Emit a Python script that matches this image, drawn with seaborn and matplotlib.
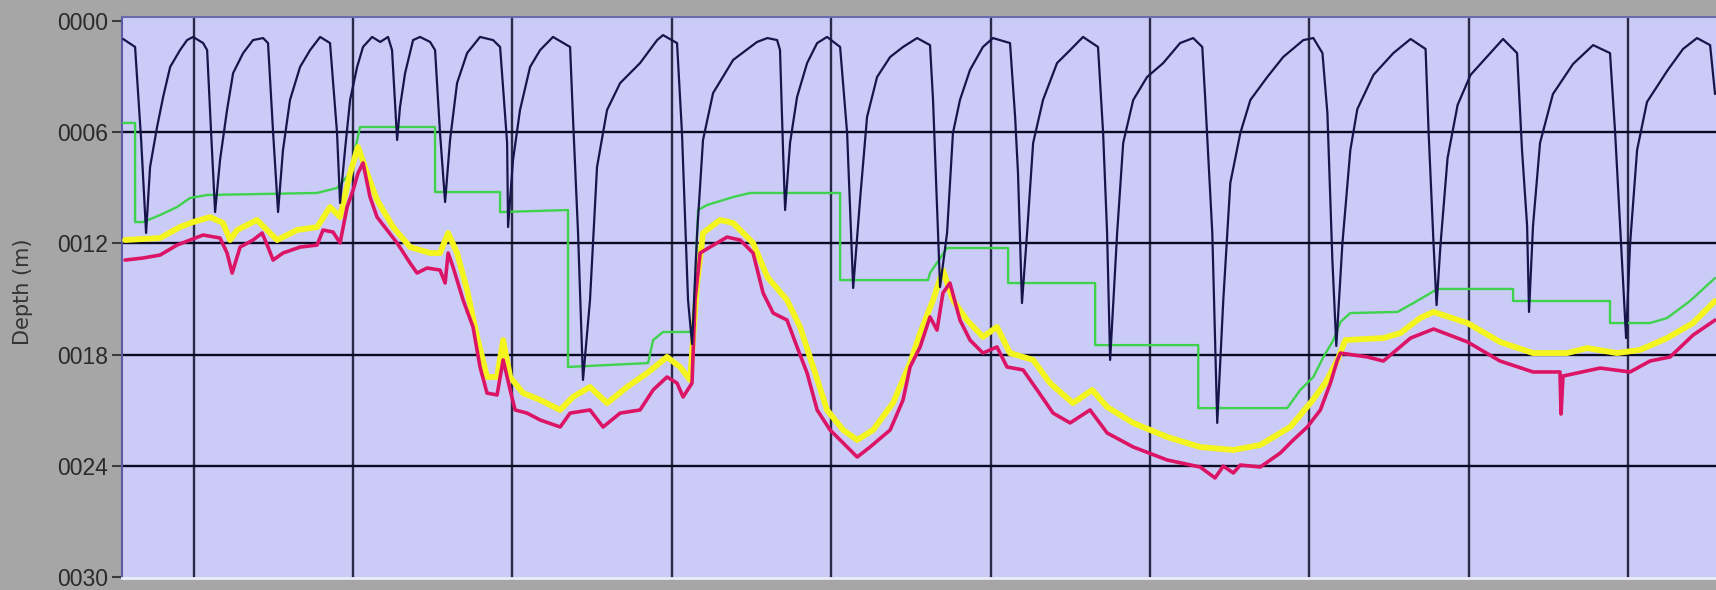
import matplotlib
matplotlib.use('Agg')
import matplotlib.pyplot as plt
from matplotlib import font_manager
import seaborn as sns

# time axis in grid units (one vertical grid line every 10), depth in metres
dive_t = [-4.42, -3.67, -3.29, -2.98, -2.73, -2.29, -1.91, -1.47, -0.85, -0.41, -0.03, 0.60,
          0.85, 1.10, 1.35, 1.66, 2.10, 2.48, 3.11, 3.73, 4.36, 4.67,
          4.99, 5.30, 5.61, 6.05, 6.68, 7.31, 7.94, 8.56,
          9.00, 9.19, 9.50, 9.82, 10.26, 10.63, 11.20, 11.71, 12.20, 12.45,
          12.77, 12.95, 13.27, 13.77, 14.21, 14.84, 15.15,
          15.46, 15.78, 16.09, 16.53, 17.16, 17.97, 18.79, 19.23,
          19.67, 19.73, 20.04, 20.48, 21.11, 21.74, 22.55, 23.62,
          23.80, 24.12, 24.43, 24.87, 25.31, 25.94, 26.76, 28.01, 29.08, 29.45, 30.33,
          30.64, 31.02, 31.27, 31.59, 31.96, 32.59, 33.85, 35.35, 36.00, 36.61, 36.79,
          36.98, 37.11, 37.42, 37.86, 38.49, 39.12, 39.74, 40.56,
          41.00, 41.38, 41.81, 42.25, 42.88, 43.70, 44.51, 45.39, 46.20,
          46.39, 46.70, 46.83, 47.27, 47.64, 48.08, 48.71, 49.52, 50.15, 51.22,
          51.54, 51.72, 51.97, 52.29, 52.67, 53.29, 54.17, 54.99, 55.80, 56.74,
          57.06, 57.31, 57.50, 57.94, 58.32, 58.95, 59.82, 60.83, 61.89, 62.71, 63.28,
          63.47, 63.91, 64.22, 64.60, 65.04, 65.67, 66.30, 67.36, 68.36, 69.62, 70.25, 70.82,
          71.13, 71.44, 71.69, 72.07, 72.57, 73.01, 74.02, 75.27, 76.35, 77.29,
          77.48, 77.79, 77.98, 78.23, 78.67, 79.30, 80.11, 81.18, 82.15, 83.03,
          83.34, 83.66, 83.78, 84.03, 84.47, 85.28, 86.54, 87.80, 88.86,
          89.18, 89.62, 89.87, 90.12, 90.56, 91.18, 92.44, 93.44, 94.32, 95.14, 95.45]
dive_d = [0.97, 1.40, 6.42, 11.44, 7.88, 5.72, 4.10, 2.48, 1.57, 1.03, 0.86, 1.19,
          1.57, 6.04, 10.31, 7.50, 4.80, 2.81, 1.73, 1.03, 0.92, 1.19,
          6.04, 10.31, 6.96, 4.26, 2.48, 1.57, 0.86, 1.19,
          6.04, 9.82, 6.96, 4.26, 2.48, 1.40, 0.86, 1.13, 0.86, 1.57,
          6.42, 4.64, 2.81, 1.03, 0.86, 1.13, 1.57,
          6.04, 9.77, 6.42, 3.35, 1.73, 0.86, 1.03, 1.40,
          6.58, 11.12, 7.50, 4.80, 2.48, 1.57, 0.86, 1.40,
          5.18, 11.44, 19.37, 15.06, 7.88, 4.80, 3.35, 2.27, 1.03, 0.76, 1.19,
          6.04, 15.06, 17.43, 11.44, 6.42, 3.89, 2.10, 1.13, 0.92, 1.03, 1.57,
          6.96, 10.20, 6.58, 4.10, 2.27, 1.19, 0.86, 1.40,
          6.04, 14.41, 9.66, 5.18, 3.02, 1.94, 1.40, 0.92, 1.30,
          4.26, 11.44, 14.36, 11.44, 6.04, 4.26, 2.64, 1.40, 0.92, 1.19,
          5.18, 8.20, 15.22, 11.44, 6.58, 4.26, 2.27, 1.57, 0.86, 1.40,
          6.04, 11.44, 18.29, 11.44, 6.58, 4.26, 3.02, 2.27, 1.19, 0.92, 1.40,
          4.26, 11.44, 21.69, 15.06, 8.74, 6.04, 4.26, 3.02, 1.94, 1.03, 0.92, 1.73,
          4.96, 12.84, 17.54, 12.03, 6.96, 4.75, 2.91, 1.73, 0.97, 1.51,
          5.99, 12.03, 15.33, 12.03, 7.39, 4.53, 2.91, 1.89, 0.97, 1.73,
          6.96, 11.06, 15.70, 11.06, 6.58, 3.94, 2.32, 1.30, 1.73,
          5.99, 13.06, 17.11, 12.03, 6.96, 4.37, 2.70, 1.51, 0.92, 1.30, 3.94]

# stepped green trace
step_t = [-4.42, -3.67, -3.67, -3.17, -2.10, -1.04, -0.22, 0.85, 7.75, 9.00, 9.82, 10.44,
          15.15, 15.15, 19.23, 19.23, 23.49, 23.49, 28.51, 28.83, 29.45, 31.34, 31.65,
          32.21, 33.85, 34.91, 40.56, 40.56, 46.08, 46.20, 47.27, 51.10, 51.10, 56.56,
          56.56, 63.03, 63.03, 68.61, 69.43, 70.25, 70.88, 71.51, 71.95, 72.57, 75.53,
          76.53, 78.04, 82.78, 82.78, 88.86, 88.86, 91.37, 92.44, 93.88, 95.45]
step_d = [5.50, 5.50, 10.85, 10.85, 10.47, 10.04, 9.55, 9.39, 9.28, 9.01, 8.20, 5.72,
          5.72, 9.23, 9.23, 10.31, 10.20, 18.67, 18.46, 17.22, 16.78, 16.78, 10.20,
          9.93, 9.50, 9.28, 9.28, 13.98, 13.98, 13.60, 12.25, 12.25, 14.14, 14.14,
          17.49, 17.49, 20.89, 20.89, 19.91, 19.21, 18.13, 17.22, 16.24, 15.76, 15.70,
          15.22, 14.46, 14.46, 15.11, 15.11, 16.30, 16.30, 16.03, 15.11, 13.87]

# yellow trace
yel_t = [-4.30, -2.10, -0.85, -0.03, 1.04, 1.85, 2.29, 2.73, 3.98, 4.61, 5.24, 6.49, 7.75,
         8.56, 9.19, 9.82, 10.32, 10.88, 11.51, 12.52, 13.58, 14.84, 15.46, 15.97, 16.53,
         17.16, 17.79, 18.41, 19.04, 19.42, 19.86, 20.67, 21.74, 23.00, 23.80, 24.87,
         25.94, 27.20, 28.45, 29.70, 30.52, 31.15, 31.59, 31.96, 33.03, 33.85, 35.10,
         36.00, 37.23, 38.05, 38.87, 39.74, 40.75, 41.63, 42.63, 43.88, 44.95, 45.58,
         46.39, 47.01, 47.64, 48.52, 49.52, 50.40, 51.22, 52.67, 53.73, 55.17, 56.37,
         57.31, 58.95, 61.08, 63.15, 65.23, 66.92, 68.80, 70.06, 71.00, 71.76, 72.26,
         74.64, 75.72, 76.95, 77.79, 79.92, 81.96, 84.03, 86.16, 87.42, 89.30, 90.75,
         92.44, 94.07, 95.45]
yel_d = [11.82, 11.71, 11.12, 10.85, 10.58, 10.90, 11.82, 11.28, 10.74, 11.28, 11.82, 11.28,
         11.12, 10.04, 10.58, 8.20, 6.80, 8.20, 9.66, 11.12, 12.20, 12.52, 12.52, 11.44,
         12.52, 14.52, 17.05, 19.21, 19.21, 17.22, 19.21, 20.08, 20.45, 20.99, 20.29,
         19.75, 20.62, 19.75, 19.00, 18.13, 18.67, 19.37, 14.14, 11.44, 10.74, 10.90,
         11.98, 13.82, 15.06, 16.51, 18.67, 20.99, 22.07, 22.61, 22.07, 20.62, 18.46,
         16.84, 15.06, 13.44, 15.06, 16.14, 17.05, 16.51, 17.92, 18.29, 19.54, 20.62,
         19.91, 20.83, 21.69, 22.45, 22.99, 23.15, 22.88, 21.91, 20.62, 19.54, 18.29,
         17.22, 17.11, 16.84, 16.03, 15.70, 16.30, 17.32, 17.92, 17.92, 17.65, 17.92,
         17.75, 17.11, 16.30, 15.11]

# red trace
red_t = [-4.30, -3.17, -2.10, -1.04, -0.22, 0.60, 1.66, 2.10, 2.42, 2.92, 3.73, 4.30, 4.67,
         4.99, 5.61, 6.68, 7.75, 8.12, 8.75, 9.19, 9.63, 10.01, 10.32, 10.63, 11.07, 11.51,
         12.14, 12.77, 13.58, 14.02, 14.65, 15.46, 15.78, 15.97, 16.28, 16.91, 17.53,
         17.97, 18.41, 19.04, 19.42, 19.86, 20.17, 20.92, 21.74, 23.00, 23.62, 24.87,
         25.69, 26.76, 28.01, 28.83, 29.70, 30.33, 30.71, 31.27, 31.46, 31.78, 32.40,
         33.47, 34.29, 35.10, 35.73, 36.36, 37.23, 37.86, 38.49, 39.12, 39.93, 40.75,
         41.63, 42.44, 43.70, 44.51, 44.95, 45.58, 46.20, 46.64, 47.01, 47.45, 48.08,
         48.71, 49.52, 50.40, 51.03, 52.04, 52.92, 53.92, 54.99, 56.24, 57.31, 58.95,
         61.08, 63.15, 64.08, 64.60, 65.23, 65.67, 66.92, 68.18, 68.99, 69.87, 70.69,
         71.32, 71.76, 71.95, 73.64, 74.64, 76.35, 77.79, 79.92, 81.96, 84.03, 85.72,
         85.79, 85.91, 88.24, 90.12, 91.37, 92.63, 94.07, 95.45]
red_d = [12.90, 12.79, 12.63, 12.09, 11.82, 11.55, 11.71, 12.52, 13.60, 12.20, 11.82, 11.44,
         12.20, 12.90, 12.52, 12.20, 12.09, 11.28, 11.39, 11.98, 10.04, 9.12, 8.20, 7.66,
         9.50, 10.58, 11.28, 11.98, 13.06, 13.60, 13.33, 13.44, 14.14, 12.52, 13.28,
         15.06, 16.51, 18.67, 20.08, 20.18, 18.29, 19.91, 20.99, 21.16, 21.53, 21.91,
         21.16, 20.99, 21.91, 21.16, 20.99, 19.91, 19.21, 19.54, 20.29, 19.54, 15.06,
         12.52, 12.20, 11.66, 11.82, 12.52, 14.68, 15.76, 16.14, 17.59, 19.00, 20.99,
         22.07, 22.77, 23.53, 22.99, 22.07, 20.45, 18.67, 17.59, 15.97, 16.68, 14.68,
         14.14, 16.14, 17.22, 17.92, 17.59, 18.67, 18.83, 19.91, 21.16, 21.69, 20.99,
         22.23, 22.99, 23.69, 24.07, 24.66, 24.02, 24.39, 23.96, 24.07, 23.31, 22.61,
         21.91, 20.99, 19.54, 18.29, 17.92, 18.13, 18.35, 17.11, 16.62, 17.32, 18.35,
         18.94, 18.94, 21.21, 19.16, 18.73, 18.94, 18.35, 18.13, 16.95, 16.14]

depth_ticks = [0, 6, 12, 18, 24, 30]
depth_labels = ['0000', '0006', '0012', '0018', '0024', '0030']
time_grid = [0, 10, 20, 30, 40, 50, 60, 70, 80, 90]

sns.set_style('white')
installed = {f.name for f in font_manager.fontManager.ttflist}
tick_font = 'Liberation Sans Narrow' if 'Liberation Sans Narrow' in installed else 'Liberation Sans'
plt.rcParams['font.family'] = [tick_font, 'DejaVu Sans']

fig = plt.figure(figsize=(17.16, 5.9), dpi=100, facecolor='#a6a6a6')
ax = fig.add_axes([0.0711, 0.0203, 0.9289, 0.951])
ax.set_facecolor('#cbcbf7')

for x in time_grid:
    ax.axvline(x, color='#2a2a48', lw=1.7, zorder=1)
for y in depth_ticks[1:-1]:
    ax.axhline(y, color='#0a0a22', lw=1.7, zorder=1)

sns.lineplot(x=step_t, y=step_d, sort=False, estimator=None, color='#3fd24c', lw=1.7, ax=ax, zorder=3)
sns.lineplot(x=yel_t, y=yel_d, sort=False, estimator=None, color='#f4f41e', lw=4.2, ax=ax, zorder=4)
sns.lineplot(x=red_t, y=red_d, sort=False, estimator=None, color='#dc1466', lw=2.6, ax=ax, zorder=5)
sns.lineplot(x=dive_t, y=dive_d, sort=False, estimator=None, color='#15154c', lw=1.6, ax=ax, zorder=6)

ax.set_xlim(-4.49, 95.51)
ax.set_ylim(30.06, -0.22)
ax.set_xticks([])
ax.set_xlabel('')
ax.set_yticks(depth_ticks)
ax.set_yticklabels(depth_labels, fontsize=16.5, color='#2a2a2a')
ax.tick_params(axis='y', direction='out', length=7, width=1.5, color='#3a3a3a', pad=3, left=True)
ax.set_ylabel('Depth (m)', fontsize=15, color='#333333', family='DejaVu Sans')
ax.yaxis.set_label_coords(-0.056, 0.51)

ax.spines['right'].set_visible(False)
ax.spines['top'].set_color('#6a6aae')
ax.spines['top'].set_linewidth(1.5)
ax.spines['left'].set_color('#5a5aa6')
ax.spines['left'].set_linewidth(1.5)
ax.spines['bottom'].set_color('#ececf6')
ax.spines['bottom'].set_linewidth(2)

fig.savefig('out.png', dpi=100, facecolor=fig.get_facecolor())
